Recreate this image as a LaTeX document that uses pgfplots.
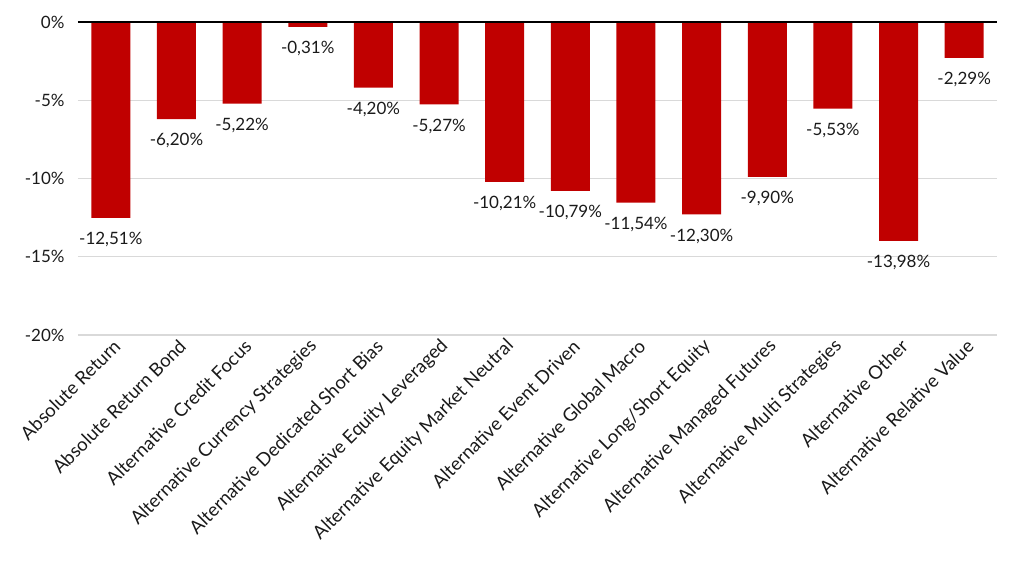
\documentclass[border=0pt]{standalone}
\usepackage{pgfplots}
\pgfplotsset{compat=1.18}
\usepackage{fontspec}
\setmainfont{Lato}
\definecolor{barred}{HTML}{C00000}
\definecolor{gridgray}{HTML}{D9D9D9}
\definecolor{txt}{HTML}{1A1A1A}
\begin{document}
\begin{tikzpicture}
\begin{axis}[
  at={(0,0)}, anchor=south west,
  scale only axis,
  width=919bp, height=313bp,
  xmin=-0.5, xmax=13.5,
  ymin=-20, ymax=0,
  ytick={-20,-15,-10,-5,0},
  xtick={0,...,13},
  xticklabels={Absolute Return,Absolute Return Bond,Alternative Credit Focus,Alternative Currency Strategies,Alternative Dedicated Short Bias,Alternative Equity Leveraged,Alternative Equity Market Neutral,Alternative Event Driven,Alternative Global Macro,Alternative Long/Short Equity,Alternative Managed Futures,Alternative Multi Strategies,Alternative Other,Alternative Relative Value},
  axis line style={draw=none},
  ymajorgrids, grid style={gridgray, line width=1.2bp},
  major tick length=0pt,
  /pgf/number format/assume math mode=true,
  yticklabel={\pgfmathprintnumber{\tick}\%},
  tick label style={font=\fontsize{17bp}{20bp}\selectfont, text=txt},
  yticklabel style={xshift=-10bp},
  xticklabel style={rotate=45, anchor=east, yshift=-10bp, xshift=2bp, font=\fontsize{18.5bp}{22bp}\selectfont},
  clip=false,
]
\addplot[ybar, bar width=39bp, fill=barred, draw=none,
  nodes near coords={\pgfmathprintnumber[fixed,fixed zerofill,precision=2,use comma,assume math mode=true]{\pgfplotspointmeta}\%},
  nodes near coords style={anchor=north, font=\fontsize{17bp}{20bp}\selectfont, text=txt, yshift=-11bp},
] coordinates {
(0,-12.51) (1,-6.20) (2,-5.22) (3,-0.31) (4,-4.20) (5,-5.27) (6,-10.21)
(7,-10.79) (8,-11.54) (9,-12.30) (10,-9.90) (11,-5.53) (12,-13.98) (13,-2.29)
};
\draw[black, line width=1.2bp] (axis cs:-0.5,0) -- (axis cs:13.5,0);
\end{axis}
\pgfresetboundingbox
\path (-78bp,-236bp) rectangle (937bp,335bp);
\end{tikzpicture}
\end{document}
